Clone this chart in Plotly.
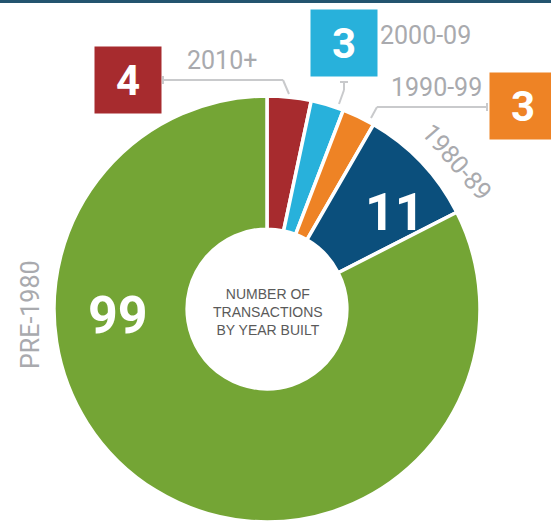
import plotly.graph_objects as go

# ---- data ----
labels = ["2010+", "2000-09", "1990-99", "1980-89", "PRE-1980"]
values = [4, 3, 3, 11, 99]
colors = ["#A72B2E", "#28B1DB", "#EE8325", "#0B4F7C", "#74A535"]
center_lines = ["NUMBER OF", "TRANSACTIONS", "BY YEAR BUILT"]

W, H = 551, 522
COND = "Roboto, Liberation Sans Narrow, sans-serif"
GRAY = "#A9AAAE"
LINE = "#C9CACC"


def px(x):
    return x / W


def py(y):
    return 1 - y / H


# pie geometry (pixels)
cx, cy, r = 267, 309, 213

fig = go.Figure(
    go.Pie(
        labels=labels,
        values=values,
        sort=False,
        direction="clockwise",
        rotation=0,
        hole=0.375,
        marker=dict(colors=colors, line=dict(color="white", width=3.5)),
        textinfo="none",
        hoverinfo="label+value",
        domain=dict(x=[px(cx - r), px(cx + r)], y=[py(cy + r), py(cy - r)]),
    )
)

ann = []


def add(x, y, **kw):
    d = dict(x=px(x), y=py(y), xref="paper", yref="paper", showarrow=False,
             xanchor="center", yanchor="middle")
    d.update(kw)
    ann.append(d)


def box(i, x, y, w=66, h=66, size=42):
    add(x, y, text=f"<b>{values[i]}</b>", width=w, height=h, bgcolor=colors[i],
        borderpad=0, align="center", valign="middle",
        font=dict(family=COND, size=size, color="white"))


def label(i, x, y, angle=0, size=25):
    add(x, y, text=labels[i], textangle=angle,
        font=dict(family=COND, size=size, color=GRAY))


def inner(i, x, y, size=52):
    add(x, y, text=f"<b>{values[i]}</b>",
        font=dict(family=COND, size=size, color="white"))


box(0, 128, 80)
box(1, 344, 43)
box(2, 523, 106)
inner(3, 395, 212)
inner(4, 118, 315)

label(0, 222, 61)
label(1, 425, 35)
label(2, 436, 88)
label(3, 456, 162, angle=49)
label(4, 30, 315, angle=-90)

add(268, 312, text="<br>".join(center_lines), align="center",
    font=dict(family="Liberation Sans, Arial, sans-serif", size=14, color="#5A5A5A"))

shapes = []


def seg(x0, y0, x1, y1, width=2):
    shapes.append(dict(type="line", xref="paper", yref="paper",
                       x0=px(x0), y0=py(y0), x1=px(x1), y1=py(y1),
                       line=dict(color=LINE, width=width)))


# leader 2010+
seg(163, 80, 283, 80)
seg(163, 76, 163, 84)
seg(283, 80, 289, 94)
# leader 2000-09
seg(344, 82, 344, 90)
seg(340, 82, 348, 82)
seg(344, 90, 339, 104)
# leader 1990-99
seg(371, 118, 377, 107)
seg(377, 107, 487, 107)
seg(487, 103, 487, 111)

# top border
shapes.append(dict(type="rect", xref="paper", yref="paper",
                   x0=0, x1=1, y0=py(3), y1=1,
                   line=dict(width=0), fillcolor="#23546F"))

fig.update_layout(
    width=W, height=H,
    margin=dict(l=0, r=0, t=0, b=0),
    paper_bgcolor="white", plot_bgcolor="white",
    showlegend=False,
    annotations=ann,
    shapes=shapes,
)

fig.write_html("out.html")
